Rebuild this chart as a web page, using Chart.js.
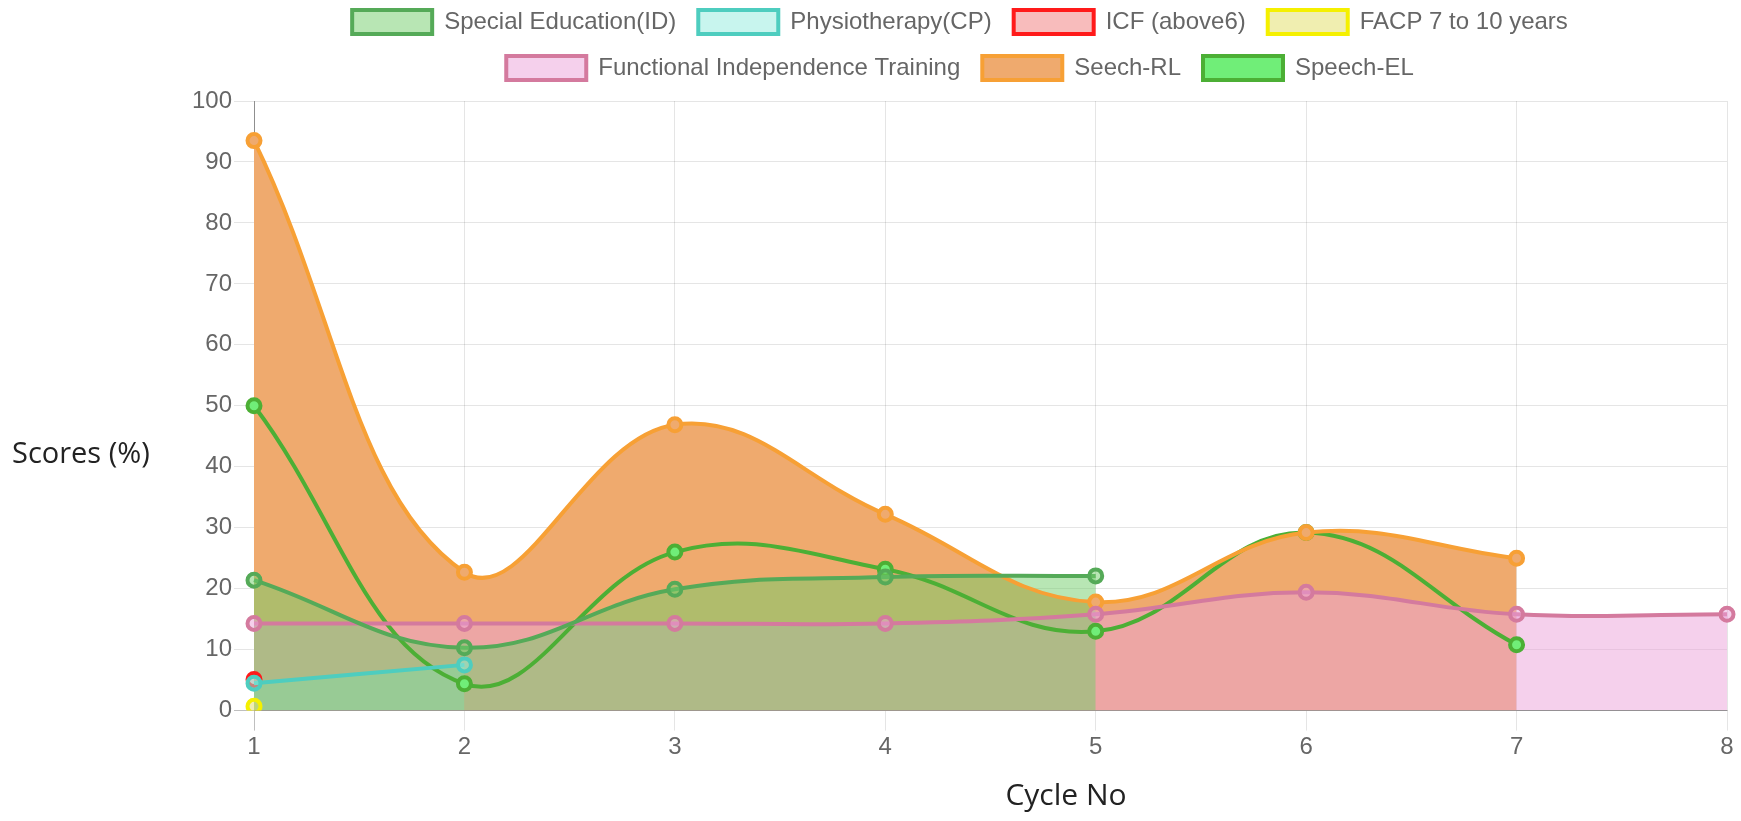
<!DOCTYPE html>
<html><head><meta charset="utf-8">
<script src="https://cdn.jsdelivr.net/npm/chart.js@4.4.0/dist/chart.umd.min.js"></script>
<style>
html,body{margin:0;padding:0;background:#fff;overflow:hidden;width:1741px;height:821px;}
#wrap{position:absolute;left:0;top:-12px;width:1741px;height:833px;}
</style></head><body>
<div id="wrap"><canvas id="c" width="1741" height="833"></canvas></div>
<script>
const cycles = ['1', '2', '3', '4', '5', '6', '7', '8'];
const specialEducation = [21.4, 10.3, 19.9, 21.9, 22.1];
const physiotherapy = [4.5, 7.5];
const icf = [5.1];
const facp = [0.7];
const functionalIndependence = [14.3, 14.3, 14.3, 14.3, 15.8, 19.4, 15.8, 15.8];
const seechRL = [93.5, 22.7, 46.9, 32.2, 17.8, 29.2, 25.0];
const speechEL = [50.0, 4.4, 26.0, 23.2, 13.0, 29.2, 10.8];
const yMin = 0, yMax = 100, yStep = 10;
const xTitle = 'Cycle No';
const yTitle = 'Scores (%)';

Chart.defaults.font.family = '"Liberation Sans", Arial, Helvetica, sans-serif';
Chart.defaults.font.size = 24;
Chart.defaults.color = '#666';

function ds(label, data, border, bg, fill) {
  return {
    label, data,
    borderColor: border, backgroundColor: bg,
    pointBackgroundColor: bg, pointBorderColor: border,
    borderWidth: 4, pointRadius: 6.5, pointBorderWidth: 4,
    tension: 0.4, fill: fill ? 'origin' : false
  };
}

const titlePlugin = {
  id: 'titles',
  beforeInit(chart) {
    const lg = chart.legend;
    if (lg) {
      const f = lg.fit;
      lg.fit = function () { f.call(this); this.height = 113; };
    }
  },
  afterDraw(chart) {
    const ctx = chart.ctx;
    ctx.save();
    ctx.fillStyle = '#222';
    ctx.textBaseline = 'middle';
    ctx.textAlign = 'left';
    ctx.font = '29px "Open Sans", "Noto Sans", sans-serif';
    ctx.fillText(yTitle, 12, 467);
    ctx.textAlign = 'center';
    ctx.font = '30px "Open Sans", "Noto Sans", sans-serif';
    ctx.fillText(xTitle, 1066, 808);
    ctx.restore();
  }
};

new Chart(document.getElementById('c'), {
  type: 'line',
  data: {
    labels: cycles,
    datasets: [
      ds('Special Education(ID)', specialEducation, '#55aa58', 'rgba(113,205,105,0.5)', true),
      ds('Physiotherapy(CP)', physiotherapy, '#4ecdbf', 'rgba(145,235,221,0.5)', true),
      ds('ICF (above6)', icf, '#ff1a1a', 'rgba(241,121,121,0.5)', true),
      ds('FACP 7 to 10 years', facp, '#f5f000', 'rgba(225,221,97,0.5)', true),
      ds('Functional Independence Training', functionalIndependence, '#d47a9e', 'rgba(235,161,217,0.5)', true),
      ds('Seech-RL', seechRL, '#f7a035', 'rgb(239,170,110)', true),
      ds('Speech-EL', speechEL, '#4caf35', 'rgb(112,238,120)', false)
    ]
  },
  options: {
    responsive: false,
    animation: false,
    devicePixelRatio: 1,
    layout: { padding: { left: 193, right: 14, top: 0, bottom: 0 } },
    plugins: {
      filler: { drawTime: 'beforeDatasetsDraw' },
      legend: {
        position: 'top',
        labels: { boxWidth: 80, boxHeight: 24, padding: 22, color: '#666', font: { size: 24 } }
      },
      tooltip: { enabled: false }
    },
    scales: {
      x: {
        type: 'category',
        offset: false,
        afterFit(s) { s.height = 110.4; },
        grid: {
          color: (c) => c.index === 0 ? 'rgba(0,0,0,0.25)' : 'rgba(0,0,0,0.1)',
          tickLength: 20, drawTicks: true
        },
        border: { color: 'rgba(0,0,0,0.25)' },
        ticks: { padding: 2, color: '#666', font: { size: 24 }, maxRotation: 0 }
      },
      y: {
        min: yMin, max: yMax,
        afterFit(s) { s.width = 61; },
        grid: {
          color: (c) => c.tick && c.tick.value === 0 ? 'rgba(0,0,0,0.25)' : 'rgba(0,0,0,0.1)',
          tickLength: 20, drawTicks: true
        },
        border: { color: 'rgba(0,0,0,0.25)' },
        ticks: { stepSize: yStep, padding: 2, color: '#666', font: { size: 24 } }
      }
    }
  },
  plugins: [titlePlugin]
});
</script>
</body></html>
